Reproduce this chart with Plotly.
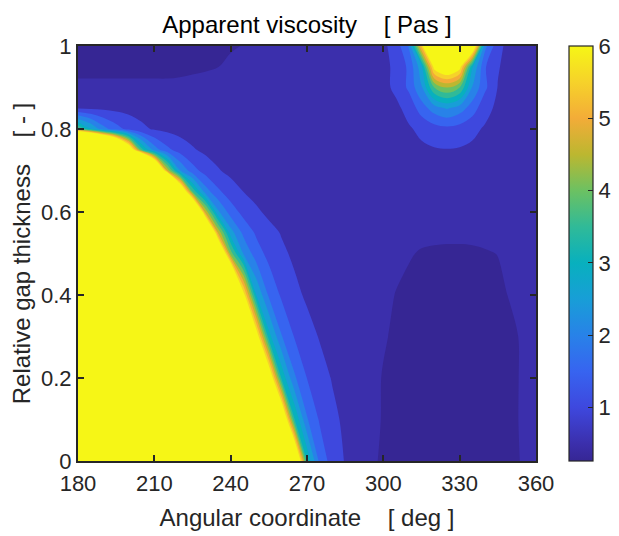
import plotly.graph_objects as go

# ---- grid coordinates ----
angle_deg = [180, 185, 190, 195, 200, 205, 210, 215, 220, 225, 230, 235, 240,
             245, 250, 255, 260, 265, 270, 275, 280, 285, 290, 295, 300, 305,
             310, 315, 320, 325, 330, 335, 340, 345, 350, 355, 360]
gap_rel = [0, 0.1, 0.2, 0.3, 0.4, 0.5, 0.55, 0.6, 0.65, 0.7, 0.75, 0.8, 0.85,
           0.9, 0.95, 1.0]

# ---- apparent viscosity [Pas], one row per gap position (estimated) ----
visc_y000 = [20, 20, 20, 20, 20, 20, 20, 20, 20, 20, 20, 20, 20, 20, 20, 20,
             12, 8.6, 3.44, 1.86, 1.27, 0.97, 0.78, 0.6, 0.42, 0.39,
             0.38, 0.38, 0.38, 0.38, 0.38, 0.38, 0.38, 0.38, 0.42, 0.53, 0.6]
visc_y010 = [20, 20, 20, 20, 20, 20, 20, 20, 20, 20, 20, 20, 20, 20, 20,
             12, 7.9, 3.55, 2.05, 1.44, 1.11, 0.91, 0.76, 0.62, 0.47, 0.41,
             0.38, 0.38, 0.38, 0.38, 0.38, 0.38, 0.38, 0.38, 0.42, 0.55, 0.6]
visc_y020 = [20, 20, 20, 20, 20, 20, 20, 20, 20, 20, 20, 20, 20, 20,
             12, 7.2, 3.41, 2.09, 1.49, 1.18, 0.97, 0.82, 0.71, 0.6, 0.48, 0.42,
             0.39, 0.39, 0.39, 0.39, 0.39, 0.39, 0.39, 0.39, 0.43, 0.54, 0.6]
visc_y030 = [20, 20, 20, 20, 20, 20, 20, 20, 20, 20, 20, 20, 20,
             12, 6.7, 3.21, 2.03, 1.48, 1.17, 0.97, 0.82, 0.71, 0.64, 0.58,
             0.53, 0.45, 0.41,
             0.39, 0.39, 0.39, 0.39, 0.39, 0.39, 0.39, 0.44, 0.54, 0.6]
visc_y040 = [20, 20, 20, 20, 20, 20, 20, 20, 20, 20, 20, 20,
             12, 6.33, 3.02, 1.93, 1.42, 1.12, 0.93, 0.81, 0.69, 0.66, 0.63,
             0.6, 0.57, 0.49, 0.44,
             0.41, 0.41, 0.41, 0.41, 0.41, 0.41, 0.44, 0.52, 0.58, 0.63]
visc_y050 = [20, 20, 20, 20, 20, 20, 20, 20, 20, 20, 20,
             8.6, 4.26, 2.47, 1.74, 1.34, 1.09, 0.92, 0.8, 0.7, 0.68,
             0.66, 0.64, 0.62, 0.6, 0.57, 0.52, 0.48, 0.46, 0.45, 0.45,
             0.46, 0.48, 0.505, 0.55, 0.6, 0.65]
visc_y055 = [20, 20, 20, 20, 20, 20, 20, 20, 20, 20,
             10, 4.98, 2.73, 1.88, 1.43, 1.15, 0.97, 0.83, 0.73, 0.7,
             0.69, 0.68, 0.67, 0.66, 0.64, 0.61, 0.58, 0.56, 0.56, 0.56,
             0.56, 0.56, 0.57, 0.59, 0.62, 0.65, 0.68]
visc_y060 = [20, 20, 20, 20, 20, 20, 20, 20, 20,
             10.3, 4.93, 2.61, 1.77, 1.34, 1.08, 0.9, 0.77, 0.7,
             0.7, 0.7, 0.7, 0.7, 0.7, 0.7, 0.7,
             0.66, 0.66, 0.66, 0.66, 0.66, 0.66, 0.66, 0.66, 0.66,
             0.68, 0.7, 0.7]
visc_y065 = [20, 20, 20, 20, 20, 20, 20, 20,
             8.14, 3.86, 2.25, 1.59, 1.23, 0.99, 0.85, 0.73, 0.7,
             0.7, 0.7, 0.7, 0.7, 0.7, 0.7, 0.7, 0.7,
             0.7, 0.71, 0.73, 0.74, 0.75, 0.74, 0.73, 0.71, 0.7,
             0.7, 0.7, 0.7]
visc_y070 = [20, 20, 20, 20, 20, 20,
             10.4, 4.9, 2.54, 1.71, 1.29, 1.04, 0.87, 0.75, 0.7,
             0.7, 0.7, 0.7, 0.7, 0.7, 0.7, 0.7, 0.7, 0.7,
             0.72, 0.74, 0.77, 0.8, 0.83, 0.84, 0.83, 0.8, 0.77, 0.74, 0.72,
             0.7, 0.7]
visc_y075 = [24, 20, 16, 12, 7.5,
             3.73, 2.28, 1.64, 1.28, 1.05, 0.9, 0.8, 0.74, 0.7,
             0.7, 0.7, 0.7, 0.7, 0.7, 0.7, 0.7, 0.7, 0.7, 0.7,
             0.8, 0.84, 0.88, 0.92, 0.96, 0.98, 0.96, 0.92, 0.88, 0.84, 0.8,
             0.75, 0.72]
visc_y080 = [4.05, 3.05, 2.2, 1.7, 1.35, 1.1, 0.95, 0.88, 0.82, 0.78, 0.75, 0.72,
             0.7, 0.7, 0.7, 0.7, 0.7, 0.7, 0.7, 0.7, 0.7, 0.7, 0.7, 0.7,
             0.83, 0.88, 0.95, 1.1, 1.28, 1.35, 1.28, 1.1, 0.95, 0.88, 0.83,
             0.76, 0.72]
visc_y085 = [0.95, 0.93, 0.9, 0.87, 0.84, 0.81, 0.78, 0.76, 0.74, 0.72, 0.71,
             0.7, 0.7, 0.7, 0.7, 0.7, 0.7, 0.7, 0.7, 0.7, 0.7, 0.7, 0.7, 0.7,
             0.83, 0.9, 1.15, 1.75, 2.25, 2.55, 2.25, 1.75, 1.15, 0.9, 0.83,
             0.75, 0.72]
visc_y090 = [0.56, 0.56, 0.56, 0.56, 0.56, 0.56, 0.56, 0.56,
             0.58, 0.6, 0.63, 0.66, 0.7,
             0.72, 0.72, 0.72, 0.72, 0.72, 0.72, 0.72, 0.72, 0.72, 0.72,
             0.76,
             0.87, 1.1, 1.6, 2.45, 4.0, 4.5, 4.0, 2.45, 1.6, 0.98, 0.84,
             0.75, 0.72]
visc_y095 = [0.42, 0.42, 0.42, 0.42, 0.42, 0.42, 0.42, 0.42, 0.42,
             0.44, 0.46, 0.495, 0.56, 0.62, 0.66, 0.7,
             0.72, 0.72, 0.72, 0.72, 0.72, 0.72, 0.72,
             0.78,
             0.86, 1.12, 1.6, 2.82, 6.3, 7.0, 6.3, 3.06, 1.54, 1.04, 0.8,
             0.74, 0.72]
visc_y100 = [0.36, 0.36, 0.36, 0.36, 0.36, 0.36, 0.36, 0.36, 0.36,
             0.38, 0.4, 0.43, 0.47, 0.51, 0.56, 0.62, 0.66, 0.7,
             0.72, 0.72, 0.72, 0.72, 0.72,
             0.8,
             0.89, 1.24, 2.04, 5.6, 10, 12, 10, 7.4, 2.15, 1.18, 0.77,
             0.73, 0.72]

viscosity = [visc_y000, visc_y010, visc_y020, visc_y030, visc_y040, visc_y050,
             visc_y055, visc_y060, visc_y065, visc_y070, visc_y075, visc_y080,
             visc_y085, visc_y090, visc_y095, visc_y100]

# contour levels and colour limits
level_start, level_end, level_step = 0.5, 6.0, 0.5
c_min, c_max = 0.26, 6.0
x_ticks = [180, 210, 240, 270, 300, 330, 360]
y_ticks = [0, 0.2, 0.4, 0.6, 0.8, 1]
cbar_ticks = [1, 2, 3, 4, 5, 6]

# parula-like colours, one per band (lower bound of each band)
band_lower = [0.26, 0.5, 1.0, 1.5, 2.0, 2.5, 3.0, 3.5, 4.0, 4.5, 5.0, 5.5, 6.0]
band_colors = [
    "rgb(54,38,148)", "rgb(59,47,172)", "rgb(62,72,222)", "rgb(55,100,240)",
    "rgb(40,130,232)", "rgb(24,158,215)", "rgb(8,176,190)", "rgb(48,186,152)",
    "rgb(108,193,98)", "rgb(188,183,48)", "rgb(243,172,56)", "rgb(246,210,42)",
    "rgb(246,246,22)",
]
n_b = len(band_colors)
fill_scale = [[k / (n_b - 1), c] for k, c in enumerate(band_colors)]
bar_scale = [[(v - c_min) / (c_max - c_min), c] for v, c in zip(band_lower, band_colors)]

axis_col = "#262626"
font_fam = "Liberation Sans, Arial, Helvetica, sans-serif"
sp = "\u00a0"

fig = go.Figure()
fig.add_trace(go.Contour(
    x=angle_deg, y=gap_rel, z=viscosity,
    autocontour=False,
    contours=dict(start=level_start, end=level_end, size=level_step,
                  coloring="fill", showlines=False),
    colorscale=fill_scale, showscale=False,
    line=dict(width=0, smoothing=1.0),
    hoverinfo="skip",
))
fig.add_trace(go.Scatter(
    x=[270], y=[0.5], mode="markers", hoverinfo="skip", showlegend=False,
    marker=dict(size=1, opacity=0, color=[3.0], colorscale=bar_scale,
                cmin=c_min, cmax=c_max, showscale=True,
                colorbar=dict(
                    x=1.072, xanchor="left", xpad=0,
                    y=0.5, yanchor="middle", len=1.0, lenmode="fraction", ypad=0,
                    thickness=24, thicknessmode="pixels",
                    outlinewidth=1.2, outlinecolor=axis_col,
                    tickvals=cbar_ticks, ticks="inside", ticklen=5,
                    tickcolor=axis_col, tickwidth=1.2,
                    tickfont=dict(size=22, color=axis_col, family=font_fam),
                )),
))

# the page adds an 8 px body margin, so the figure is 8 px smaller each way
fig.update_layout(
    width=611, height=528,
    margin=dict(l=70, r=83, t=38, b=75, pad=0, autoexpand=False),
    paper_bgcolor="white", plot_bgcolor="white",
    font=dict(family=font_fam, color=axis_col),
    showlegend=False,
    title=dict(text="Apparent viscosity" + sp * 4 + "[ Pas ]",
               x=0.5, xref="paper", xanchor="center",
               y=1.0, yref="paper", yanchor="bottom",
               pad=dict(b=13), automargin=False,
               font=dict(size=24, color="black", family=font_fam)),
    xaxis=dict(range=[180, 360], tickvals=x_ticks, ticks="inside", ticklen=6,
               tickwidth=1.5, tickcolor=axis_col, showline=True, linewidth=2,
               linecolor=axis_col, mirror="ticks", showgrid=False, zeroline=False,
               automargin=False, ticklabelstandoff=2,
               tickfont=dict(size=22, color=axis_col),
               title=dict(text="Angular coordinate" + sp * 4 + "[ deg ]",
                          font=dict(size=24, color=axis_col), standoff=14)),
    yaxis=dict(range=[0, 1], tickvals=y_ticks, ticks="inside", ticklen=6,
               tickwidth=1.5, tickcolor=axis_col, showline=True, linewidth=2,
               linecolor=axis_col, mirror="ticks", showgrid=False, zeroline=False,
               automargin=False,
               tickfont=dict(size=22, color=axis_col),
               title=dict(text="Relative gap thickness" + sp * 4 + "[ - ]",
                          font=dict(size=24, color=axis_col), standoff=6)),
)

fig.write_html("out.html")
